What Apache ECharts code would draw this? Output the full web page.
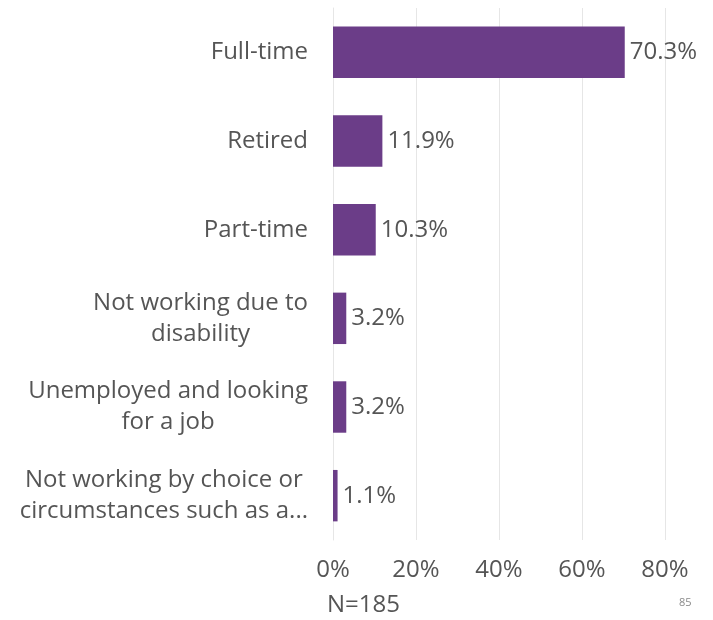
<!DOCTYPE html>
<html>
<head>
<meta charset="utf-8">
<script src="https://cdn.jsdelivr.net/npm/echarts@6/dist/echarts.min.js"></script>
<style>
  html, body { margin: 0; padding: 0; background: #ffffff; }
  #chart { width: 713px; height: 620px; }
</style>
</head>
<body>
<div id="chart"></div>
<script>
// Employment status of respondents (share of N=185)
const categories = [
  'Full-time',
  'Retired',
  'Part-time',
  'Not working due to\ndisability',
  'Unemployed and looking\nfor a job',
  'Not working by choice or\ncircumstances such as a...'
];
const shares = [70.3, 11.9, 10.3, 3.2, 3.2, 1.1];
const tickValues = [0, 20, 40, 60, 80];
const sampleNote = 'N=185';
const pageNumber = '85';

const FONT = '"Open Sans", sans-serif';
const WEIGHT = 400;
const TEXT = '#555555';
const BAR = '#6b3d88';
const SIZE = 24;

// each line of a wrapped category name is centred under the line above it
const centredLines = s => s.split('\n').map(l => '{c|' + l + '}').join('\n');

const chart = echarts.init(document.getElementById('chart'), null, { renderer: 'canvas' });
chart.setOption({
  backgroundColor: '#ffffff',
  animation: false,
  grid: { left: 333, right: 48, top: 8, bottom: 80, containLabel: false },
  xAxis: {
    type: 'value',
    min: tickValues[0],
    max: tickValues[tickValues.length - 1],
    interval: 20,
    axisLine: { show: false },
    axisTick: { show: false },
    splitLine: { show: true, lineStyle: { color: '#e6e6e6', width: 1 } },
    axisLabel: {
      formatter: v => v + '%',
      color: TEXT,
      fontFamily: FONT,
      fontWeight: WEIGHT,
      fontSize: SIZE,
      margin: 18
    }
  },
  yAxis: {
    type: 'category',
    inverse: true,
    data: categories,
    axisLine: { show: true, lineStyle: { color: '#e6e6e6', width: 1 } },
    axisTick: { show: false },
    axisLabel: {
      formatter: centredLines,
      margin: 25,
      align: 'right',
      rich: {
        c: {
          align: 'center',
          color: TEXT,
          fontFamily: FONT,
          fontWeight: WEIGHT,
          fontSize: SIZE,
          lineHeight: 31
        }
      }
    }
  },
  series: [{
    type: 'bar',
    data: shares,
    barWidth: '58%',
    itemStyle: { color: BAR },
    label: {
      show: true,
      position: 'right',
      distance: 5,
      formatter: p => p.value.toFixed(1) + '%',
      color: TEXT,
      fontFamily: FONT,
      fontWeight: WEIGHT,
      fontSize: SIZE
    }
  }],
  graphic: [
    {
      type: 'text',
      left: 327,
      top: 593,
      style: { text: sampleNote, fill: TEXT, font: WEIGHT + ' ' + SIZE + 'px ' + FONT }
    },
    {
      type: 'text',
      left: 679,
      top: 597,
      style: { text: pageNumber, fill: '#8a8a8a', font: '11px ' + FONT }
    }
  ]
});
</script>
</body>
</html>
